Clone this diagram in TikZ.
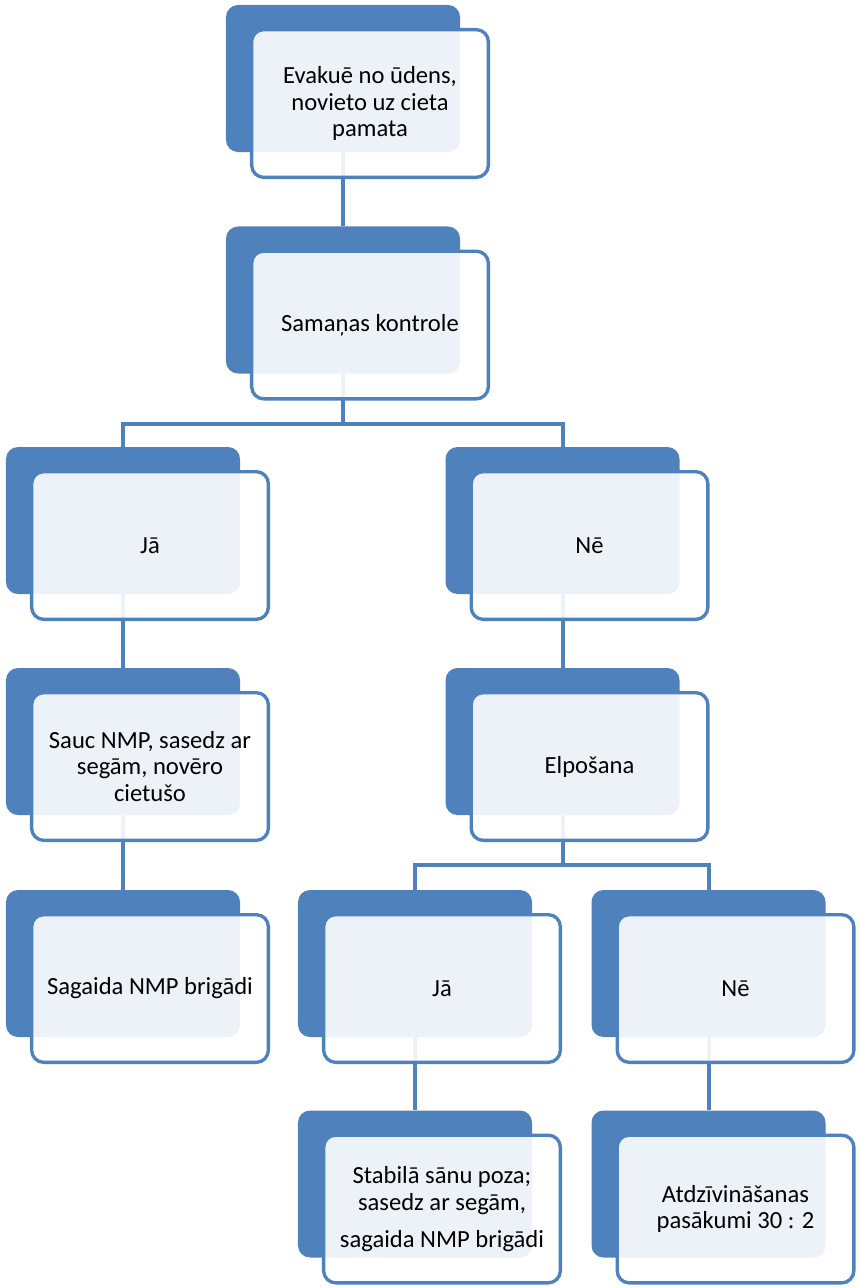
\documentclass[tikz,border=0pt]{standalone}
\usepackage{fontspec}
\setmainfont{Carlito}
\usetikzlibrary{backgrounds}
\definecolor{smartblue}{HTML}{4F81BD}
\tikzset{
  backbox/.style={
    fill=smartblue,
    rounded corners=0.36cm,
    minimum width=7.02cm,
    minimum height=4.41cm,
    inner sep=0pt
  },
  frontbox/.style={
    draw=smartblue,
    line width=0.1cm,
    fill=white,
    fill opacity=0.9,
    text opacity=1,
    rounded corners=0.36cm,
    minimum width=7.1cm,
    minimum height=4.43cm,
    align=center,
    font=\fontsize{21}{22.8}\selectfont
  },
  linkline/.style={
    draw=smartblue,
    line width=0.12cm
  }
}

\begin{document}
\begin{tikzpicture}[x=0.03cm, y=-0.03cm]
    \useasboundingbox (0,0) rectangle (858,1288);

    % back boxes
    \node[backbox] (evakB) at (343,78.5) {};
    \node[backbox] (samB)  at (343,300) {};
    \node[backbox] (jaB)   at (123,520.5) {};
    \node[backbox] (neB)   at (562.5,520.5) {};
    \node[backbox] (saucB) at (123,741.5) {};
    \node[backbox] (elpB)  at (562.5,741.5) {};
    \node[backbox] (sagB)  at (123,963.5) {};
    \node[backbox] (jaiiB) at (415,963.5) {};
    \node[backbox] (neiiB) at (708.5,963.5) {};
    \node[backbox] (stabB) at (415,1184) {};
    \node[backbox] (atdzB) at (708.5,1184) {};

    % front boxes with the texts
    \node[frontbox] (evak) at ([shift={(27,25)}]evakB.center) {Evakuē no ūdens,\\novieto uz cieta\\pamata};
    \node[frontbox] (sam)  at ([shift={(27,25)}]samB.center) {Samaņas kontrole};
    \node[frontbox] (ja)   at ([shift={(27,25)}]jaB.center) {Jā};
    \node[frontbox] (ne)   at ([shift={(27,25)}]neB.center) {Nē};
    \node[frontbox] (sauc) at ([shift={(27,25)}]saucB.center) {Sauc NMP, sasedz ar\\segām, novēro\\cietušo};
    \node[frontbox] (elp)  at ([shift={(27,25)}]elpB.center) {Elpošana};
    \node[frontbox] (sag)  at ([shift={(27,25)}]sagB.center) {Sagaida NMP brigādi};
    \node[frontbox] (jaii) at ([shift={(27,25)}]jaiiB.center) {Jā};
    \node[frontbox] (neii) at ([shift={(27,25)}]neiiB.center) {Nē};
    \node[frontbox] (stab) at ([shift={(27,25)}]stabB.center) {Stabilā sānu poza;\\sasedz ar segām,\\[9pt]sagaida NMP brigādi};
    \node[frontbox] (atdz) at ([shift={(27,25)}]atdzB.center) {Atdzīvināšanas\\pasākumi 30 : 2};

    \begin{scope}[on background layer]
        \draw[linkline] (evakB) -- (samB);
        \draw[linkline] (samB.south) -- ++(0,50) -| (jaB.north);
        \draw[linkline] (samB.south) -- ++(0,50) -| (neB.north);
        \draw[linkline] (jaB) -- (saucB);
        \draw[linkline] (saucB) -- (sagB);
        \draw[linkline] (neB) -- (elpB);
        \draw[linkline] (elpB.south) -- ++(0,50) -| (jaiiB.north);
        \draw[linkline] (elpB.south) -- ++(0,50) -| (neiiB.north);
        \draw[linkline] (jaiiB) -- (stabB);
        \draw[linkline] (neiiB) -- (atdzB);
    \end{scope}
\end{tikzpicture}
\end{document}
